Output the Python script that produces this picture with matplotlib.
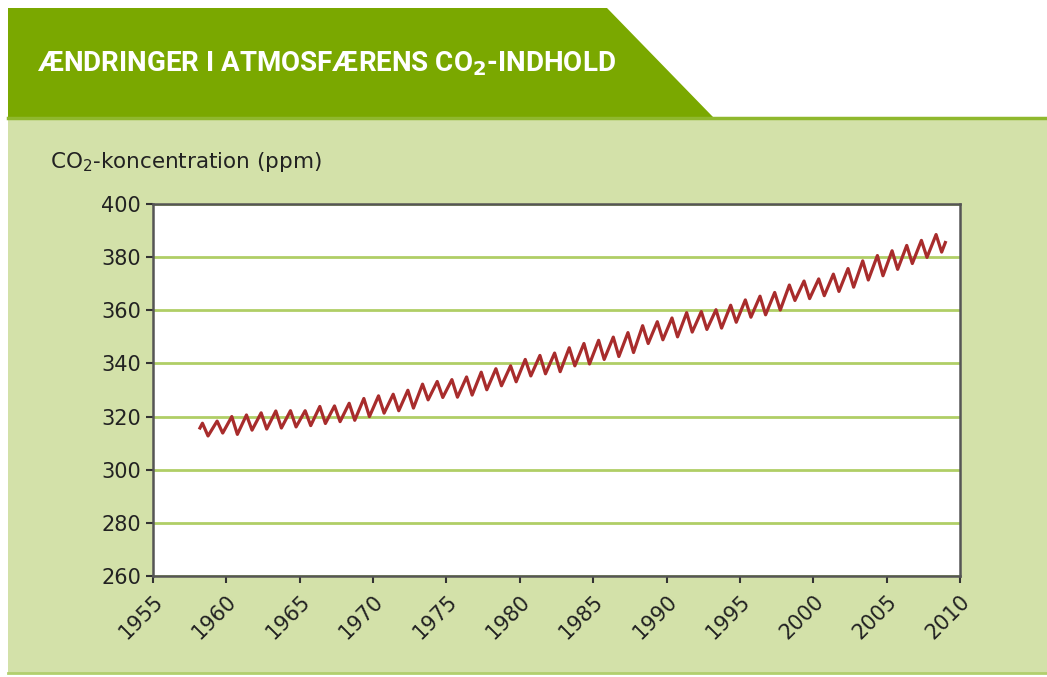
import matplotlib
matplotlib.use('Agg')
import matplotlib.pyplot as plt
from matplotlib.patches import Polygon, Rectangle

# Mauna Loa CO2: yearly top (May) and bottom (Sep/Oct)
years = list(range(1958, 2009))
peak_ppm = [317.5, 318.3, 320.0, 320.6, 321.4, 322.1, 322.2, 322.2, 323.8, 324.0,
            325.0, 326.8, 327.8, 328.4, 329.9, 332.2, 333.2, 333.9, 334.9, 336.7,
            338.0, 339.1, 341.5, 343.0, 343.9, 345.9, 347.5, 348.7, 349.9, 351.6,
            354.2, 355.7, 357.1, 359.1, 359.5, 360.2, 361.9, 363.9, 365.3, 366.7,
            369.5, 371.0, 371.8, 373.6, 375.7, 378.6, 380.6, 382.4, 384.4, 386.3,
            388.5]
trough_ppm = [312.7, 313.8, 313.3, 314.9, 315.3, 315.7, 316.1, 316.6, 317.4, 318.1,
              318.6, 320.0, 321.3, 322.2, 323.2, 326.3, 327.2, 327.3, 328.1, 330.1,
              331.6, 333.1, 335.3, 336.1, 336.9, 339.1, 339.8, 341.5, 342.6, 344.1,
              347.5, 348.9, 350.0, 351.8, 352.8, 353.3, 355.5, 357.4, 358.3, 360.1,
              363.7, 364.4, 365.5, 367.1, 368.7, 371.4, 373.0, 375.4, 377.6, 379.9,
              381.9]
start_year, start_ppm = 1958.2, 315.7
end_year, end_ppm = 2009.0, 385.5

x_ticks = list(range(1955, 2011, 5))
y_ticks = list(range(260, 401, 20))

title = r'ÆNDRINGER I ATMOSFÆRENS CO$_\mathbf{2}$-INDHOLD'
ylabel = 'CO$_2$-koncentration (ppm)'

# build the zigzag line
xs = [start_year]
ys = [start_ppm]
for yr, p, t in zip(years, peak_ppm, trough_ppm):
    xs += [yr + 0.37, yr + 0.75]
    ys += [p, t]
xs.append(end_year)
ys.append(end_ppm)

fig = plt.figure(figsize=(10.47, 6.77), dpi=100)
fig.patch.set_facecolor('white')

# background panel and header, in pixel coords
bg = fig.add_axes([0, 0, 1, 1], zorder=-1)
bg.set_xlim(0, 1047)
bg.set_ylim(677, 0)
bg.axis('off')
bg.add_patch(Rectangle((8, 119), 1039, 554, color='#d3e1a9', lw=0))
bg.add_patch(Polygon([(8, 8), (607, 8), (713, 117), (8, 117)], closed=True,
                     color='#7aa800', lw=0))
bg.plot([8, 1047], [118, 118], color='#8fb82e', lw=2.5)
bg.plot([8, 1047], [673, 673], color='#b2cf6e', lw=2)
bg.text(37, 64, title, color='white', fontsize=20, fontweight='bold',
        family=['Roboto', 'DejaVu Sans'], va='center', ha='left')
bg.text(50, 162, ylabel, color='#222222', fontsize=15.5, va='center', ha='left')

ax = fig.add_axes([153 / 1047, 1 - 576 / 677, 807 / 1047, 372 / 677])
ax.set_facecolor('white')
ax.plot(xs, ys, color='#a82c2c', lw=2.3)

ax.set_xlim(1955, 2010)
ax.set_ylim(260, 400)
ax.set_xticks(x_ticks)
ax.set_yticks(y_ticks)
ax.set_xticklabels([str(v) for v in x_ticks], rotation=45, ha='right',
                   rotation_mode='anchor')
ax.yaxis.grid(True, color='#b0ce66', lw=2)
ax.set_axisbelow(True)
for s in ax.spines.values():
    s.set_color('#555555')
    s.set_linewidth(1.8)
ax.tick_params(axis='both', direction='out', length=5, width=1.5,
               color='#333333', labelsize=15, labelcolor='#222222')
ax.tick_params(axis='x', pad=6)

fig.savefig('out.png', dpi=100)
